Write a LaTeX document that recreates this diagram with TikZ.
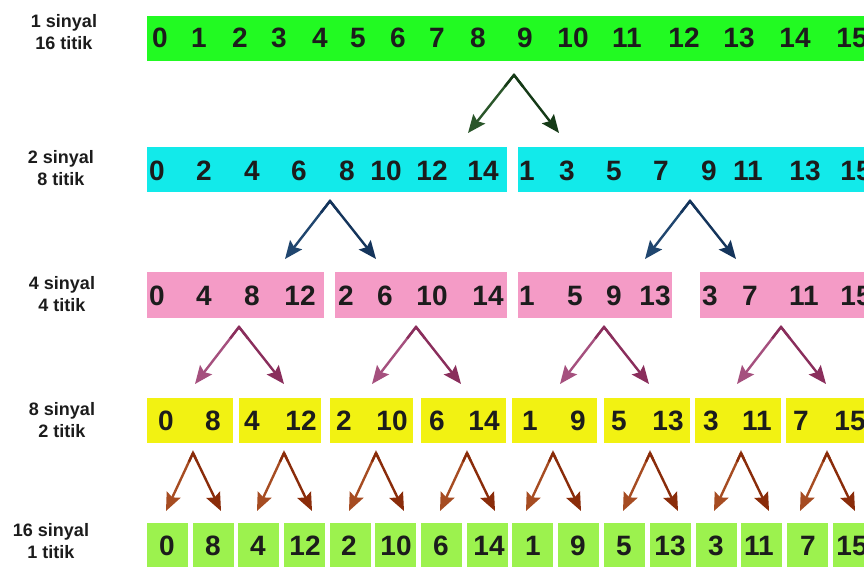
\documentclass[tikz,border=0pt]{standalone}
\usepackage{fontspec}
\setmainfont{Liberation Sans}
\usetikzlibrary{arrows.meta,calc}
\definecolor{txt}{HTML}{1C1C1C}
\definecolor{cgreen}{HTML}{22FA22}
\definecolor{ccyan}{HTML}{12EAEA}
\definecolor{cpink}{HTML}{F49BC6}
\definecolor{cyellow}{HTML}{F2F212}
\definecolor{clime}{HTML}{9CF24E}
\definecolor{agreenL}{HTML}{2A562A}
\definecolor{agreenR}{HTML}{153A17}
\definecolor{ablueL}{HTML}{20466F}
\definecolor{ablueR}{HTML}{14345B}
\definecolor{aplumL}{HTML}{A5507E}
\definecolor{aplumR}{HTML}{8A2E5C}
\definecolor{abrownL}{HTML}{A64C22}
\definecolor{abrownR}{HTML}{8A2C0A}
\begin{document}
\begin{tikzpicture}[x=1pt,y=-1pt,
  num/.style={anchor=base,inner sep=0pt,font=\fontsize{28}{30}\selectfont\bfseries,text=txt},
  lbl/.style={anchor=north,align=center,inner sep=0pt,font=\fontsize{18}{22}\selectfont\bfseries,text=txt},
  cell/.style={anchor=north west,inner sep=0pt,draw=none,outer sep=0pt},
  arr/.style={line width=2.4pt,line cap=butt,-{Stealth[length=18pt,width=15pt,inset=3pt]}},
  apex/.style={line width=2.4pt,line join=miter,miter limit=10}]
\useasboundingbox (0,0) rectangle (864,566);
\clip (0,0) rectangle (864,566);
\fill[white] (0,0) rectangle (864,566);

% row labels
\node[lbl] (l1) at (64,14) {1 sinyal\\16 titik};
\node[lbl] (l2) at (61,150) {2 sinyal\\8 titik};
\node[lbl] (l3) at (62,276) {4 sinyal\\4 titik};
\node[lbl] (l4) at (62,402) {8 sinyal\\2 titik};
\node[lbl] (l5) at (51,523) {16 sinyal\\1 titik};

% row 1
\node[cell,fill=cgreen,minimum width=730pt,minimum height=45pt] (r1) at (147,16) {};
\foreach \v/\x [count=\i] in {0/160,1/199,2/240,3/279,4/320,5/358,6/398,7/437,8/478,9/525,10/573,11/627,12/684,13/739,14/795,15/852}
  \node[num] (n1-\i) at (\x,47) {\v};

% row 2
\node[cell,fill=ccyan,minimum width=360pt,minimum height=45pt] (r2a) at (147,147) {};
\node[cell,fill=ccyan,minimum width=360pt,minimum height=45pt] (r2b) at (518,147) {};
\foreach \v/\x [count=\i] in {0/157,2/204,4/252,6/299,8/347,10/386,12/432,14/483,1/527,3/567,5/614,7/661,9/709,11/748,13/805,15/856}
  \node[num] (n2-\i) at (\x,180) {\v};

% row 3
\node[cell,fill=cpink,minimum width=177pt,minimum height=46pt] (r3a) at (147,272) {};
\node[cell,fill=cpink,minimum width=172pt,minimum height=46pt] (r3b) at (335,272) {};
\node[cell,fill=cpink,minimum width=154pt,minimum height=46pt] (r3c) at (518,272) {};
\node[cell,fill=cpink,minimum width=180pt,minimum height=46pt] (r3d) at (700,272) {};
\foreach \v/\x [count=\i] in {0/157,4/204,8/252,12/300,2/346,6/385,10/432,14/488,1/527,5/575,9/614,13/655,3/710,7/750,11/804,15/856}
  \node[num] (n3-\i) at (\x,305) {\v};

% row 4
\foreach \a/\b [count=\i] in {147/233,239/321,330/413,421/506,512/597,604/690,695/781,786/880}
  \node[cell,fill=cyellow,minimum width={(\b-\a)*1pt},minimum height=45pt] (r4-\i) at (\a,398) {};
\foreach \v/\x [count=\i] in {0/166,8/213,4/252,12/301,2/344,10/392,6/437,14/484,1/530,9/578,5/619,13/668,3/711,11/757,7/801,15/850}
  \node[num] (n4-\i) at (\x,430) {\v};

% row 5
\foreach \a [count=\i] in {147,193,238,284,330,375,421,467,512,558,604,650,696,741,787,833}
  \node[cell,fill=clime,minimum width=41pt,minimum height=50pt] (r5-\i) at (\a,523) {};
\foreach \v/\x [count=\i] in {0/167,8/213,4/258,12/305,2/349,10/396,6/441,14/489,1/533,9/578,5/624,13/670,3/716,11/759,7/808,15/852}
  \node[num] (n5-\i) at (\x,555) {\v};

% arrows row 1 -> 2
\coordinate (p1) at (514,75); \coordinate (p1l) at (468,133); \coordinate (p1r) at (559,133);
\draw[arr,agreenL] (p1) -- (p1l);
\draw[arr,agreenR] (p1) -- (p1r);
\draw[apex,agreenR] ($(p1)!0.2!(p1l)$) -- (p1) -- ($(p1)!0.2!(p1r)$);

% arrows row 2 -> 3
\foreach \c [count=\i] in {330,690}{
  \coordinate (p2-\i) at (\c,201);
  \coordinate (p2l-\i) at (\c-45,259);
  \coordinate (p2r-\i) at (\c+46,259);
  \draw[arr,ablueL] (p2-\i) -- (p2l-\i);
  \draw[arr,ablueR] (p2-\i) -- (p2r-\i);
  \draw[apex,ablueR] ($(p2-\i)!0.2!(p2l-\i)$) -- (p2-\i) -- ($(p2-\i)!0.2!(p2r-\i)$);
}

% arrows row 3 -> 4
\foreach \c [count=\i] in {239,416,604,781}{
  \coordinate (p3-\i) at (\c,327);
  \coordinate (p3l-\i) at (\c-44,384);
  \coordinate (p3r-\i) at (\c+45,384);
  \draw[arr,aplumL] (p3-\i) -- (p3l-\i);
  \draw[arr,aplumR] (p3-\i) -- (p3r-\i);
  \draw[apex,aplumR] ($(p3-\i)!0.2!(p3l-\i)$) -- (p3-\i) -- ($(p3-\i)!0.2!(p3r-\i)$);
}

% arrows row 4 -> 5
\foreach \c [count=\i] in {193,284,376,467,553,650,741,827}{
  \coordinate (p4-\i) at (\c,453);
  \coordinate (p4l-\i) at (\c-27,511);
  \coordinate (p4r-\i) at (\c+28,511);
  \draw[arr,abrownL] (p4-\i) -- (p4l-\i);
  \draw[arr,abrownR] (p4-\i) -- (p4r-\i);
  \draw[apex,abrownR] ($(p4-\i)!0.15!(p4l-\i)$) -- (p4-\i) -- ($(p4-\i)!0.15!(p4r-\i)$);
}
\end{tikzpicture}
\end{document}
